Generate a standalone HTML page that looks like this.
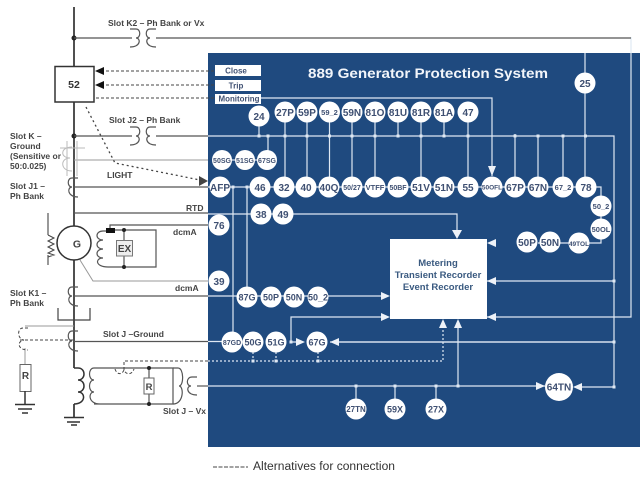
<!DOCTYPE html>
<html><head><meta charset="utf-8"><style>
html,body{margin:0;padding:0;background:#fff}
svg{display:block;filter:blur(.3px)}
text{font-family:"Liberation Sans",sans-serif}
.w{stroke:#dfe8f3;stroke-width:1.2;fill:none}
.d{stroke:#555;stroke-width:1.2;fill:none}
.g{stroke:#999;stroke-width:1;fill:none}
.k{stroke:#3d3d3d;stroke-width:1.8;fill:none}
.c circle{fill:#fff}
.n{fill:#3f5072;font-weight:bold;font-size:10px;text-anchor:middle}
.l{fill:#444;font-weight:bold;font-size:8.5px}
.dw{stroke:#dfe8f3;stroke-width:1.2;stroke-dasharray:2 2;fill:none}
.dk{stroke:#444;stroke-width:1;stroke-dasharray:3 2;fill:none}
</style></head><body>
<svg width="640" height="480" viewBox="0 0 640 480" xmlns="http://www.w3.org/2000/svg">
<rect x="208" y="53" width="432" height="394" fill="#1f4a7f"/>
<!-- white lines in panel -->
<g class="w">
<path d="M208 136H614V387M614 281H487M614 342H330M614 387H575"/>
<path d="M208 187H586M222 160H268V136M631 37V317H487"/>
<path d="M585 53V187M586 187H601V206V229V243H538"/>
<path d="M261 98H492V176"/>
<path d="M285 112V187M307 112V187M329.500 112V187M352 112V187M375 112V187M398 112V136M421 112V187M444 112V136M468 112V187M259 116V136"/>
<path d="M515 134V187M538 136V187M563 136V187"/>
<path d="M233 187V342M247 187V296"/>
<path d="M208 214H457V232M208 296H382M291 342H303M291 342V317H382M335 342H614"/>
<path d="M208 341.500H240M208 386H545M356 386V409M395 386V409M436 386V409M458 386V325"/>
</g>
<path class="dw" d="M208 361H443V326M253 352V361M276 352V361M318 352V361"/>
<!-- panel dots -->
<g fill="#dfe8f3">
<rect x="257.500" y="134.500" width="3" height="3"/><rect x="266.500" y="134.500" width="3" height="3"/><rect x="283.500" y="134.500" width="3" height="3"/><rect x="305.500" y="134.500" width="3" height="3"/><rect x="328" y="134.500" width="3" height="3"/><rect x="350.500" y="134.500" width="3" height="3"/><rect x="373.500" y="134.500" width="3" height="3"/><rect x="396.500" y="134.500" width="3" height="3"/><rect x="419.500" y="134.500" width="3" height="3"/><rect x="442.500" y="134.500" width="3" height="3"/><rect x="466.500" y="134.500" width="3" height="3"/><rect x="513.500" y="134.500" width="3" height="3"/><rect x="536.500" y="134.500" width="3" height="3"/><rect x="561.500" y="134.500" width="3" height="3"/><rect x="584" y="134.500" width="3" height="3"/>
<rect x="612.500" y="279.500" width="3" height="3"/><rect x="612.500" y="340.500" width="3" height="3"/><rect x="612.500" y="385.500" width="3" height="3"/><rect x="354.500" y="384.500" width="3" height="3"/><rect x="393.500" y="384.500" width="3" height="3"/><rect x="434.500" y="384.500" width="3" height="3"/><rect x="456.500" y="384.500" width="3" height="3"/><rect x="289.500" y="340.500" width="3" height="3"/><rect x="251.500" y="359.500" width="3" height="3"/><rect x="274.500" y="359.500" width="3" height="3"/><rect x="316.500" y="359.500" width="3" height="3"/>
<rect x="231.500" y="185.500" width="3" height="3"/><rect x="245.500" y="185.500" width="3" height="3"/>
</g>
<!-- panel arrows -->
<g fill="#eef2f8">
<path d="M492 176L488 166H496Z"/><path d="M457 239L452 230H462Z"/>
<path d="M390 296L381 292V300Z"/><path d="M390 317L381 313V321Z"/>
<path d="M487 243L496 239V247Z"/><path d="M487 281L496 277V285Z"/><path d="M487 317L496 313V321Z"/>
<path d="M305 342L296 338V346Z"/><path d="M330 342L339 338V346Z"/>
<path d="M443 319L439 328H447Z"/><path d="M458 319L454 328H462Z"/>
<path d="M545 386L536 382V390Z"/><path d="M573 387L582 383V391Z"/>
</g>
<!-- box -->
<rect x="390" y="239" width="97" height="80" fill="#fff"/>
<g fill="#3a5a80" font-weight="bold" font-size="9.500" text-anchor="middle">
<text x="438" y="266">Metering</text><text x="438" y="278">Transient Recorder</text><text x="438" y="290">Event Recorder</text>
</g>
<text x="308" y="78" fill="#f2f5fa" font-weight="bold" font-size="14.200" textLength="240" lengthAdjust="spacingAndGlyphs">889 Generator Protection System</text>
<!-- input boxes -->
<g fill="#fff"><rect x="215" y="65" width="46" height="11"/><rect x="215" y="80" width="46" height="11"/><rect x="215" y="94" width="46" height="10"/></g>
<g fill="#3f5072" font-size="8" font-weight="bold" text-anchor="middle"><text x="236" y="73.500">Close</text><text x="236" y="88.500">Trip</text><text x="239" y="101.500" textLength="41" lengthAdjust="spacingAndGlyphs">Monitoring</text></g>
<!-- circles -->
<g class="c">
<circle cx="259" cy="116" r="10.500"/><circle cx="285" cy="112" r="10.500"/><circle cx="307" cy="112" r="10.500"/><circle cx="329.500" cy="112" r="10.500"/><circle cx="352" cy="112" r="10.500"/><circle cx="375" cy="112" r="10.500"/><circle cx="398" cy="112" r="10.500"/><circle cx="421" cy="112" r="10.500"/><circle cx="444" cy="112" r="10.500"/><circle cx="468" cy="112" r="10.500"/>
<circle cx="585" cy="83" r="10.500"/>
<circle cx="222" cy="160" r="10"/><circle cx="245" cy="160" r="10"/><circle cx="267" cy="160" r="10"/>
<circle cx="220" cy="187" r="10.500"/><circle cx="260" cy="187" r="10.500"/><circle cx="284" cy="187" r="10.500"/><circle cx="306" cy="187" r="10.500"/><circle cx="329" cy="187" r="10.500"/><circle cx="352" cy="187" r="10.500"/><circle cx="375" cy="187" r="10.500"/><circle cx="398" cy="187" r="10.500"/><circle cx="421" cy="187" r="10.500"/><circle cx="444" cy="187" r="10.500"/><circle cx="468" cy="187" r="10.500"/><circle cx="492" cy="187" r="10.500"/><circle cx="515" cy="187" r="10.500"/><circle cx="538" cy="187" r="10.500"/><circle cx="563" cy="187" r="10.500"/><circle cx="586" cy="187" r="10.500"/>
<circle cx="601" cy="206" r="10.500"/><circle cx="601" cy="229" r="10.500"/><circle cx="579" cy="243" r="10.500"/><circle cx="550" cy="242" r="10.500"/><circle cx="527" cy="242" r="10.500"/>
<circle cx="261" cy="214" r="10.500"/><circle cx="283" cy="214" r="10.500"/><circle cx="219" cy="225" r="10.500"/><circle cx="219" cy="281" r="10.500"/>
<circle cx="247" cy="297" r="10.500"/><circle cx="271" cy="297" r="10.500"/><circle cx="294" cy="297" r="10.500"/><circle cx="318" cy="297" r="10.500"/>
<circle cx="232" cy="342" r="10.500"/><circle cx="253" cy="342" r="10.500"/><circle cx="276" cy="342" r="10.500"/><circle cx="317" cy="342" r="10.500"/>
<circle cx="356" cy="409" r="10.500"/><circle cx="395" cy="409" r="10.500"/><circle cx="436" cy="409" r="10.500"/><circle cx="559" cy="387" r="14"/>
</g>
<g class="n">
<text x="259" y="120">24</text><text x="285" y="116">27P</text><text x="307" y="116">59P</text><text x="329.500" y="115" font-size="7.500">59_2</text><text x="352" y="116">59N</text><text x="375" y="116">81O</text><text x="398" y="116">81U</text><text x="421" y="116">81R</text><text x="444" y="116">81A</text><text x="468" y="116">47</text>
<text x="585" y="87">25</text>
<text x="222" y="163" font-size="7">50SG</text><text x="245" y="163" font-size="7">51SG</text><text x="267" y="163" font-size="7">67SG</text>
<text x="220" y="191">AFP</text><text x="260" y="191">46</text><text x="284" y="191">32</text><text x="306" y="191">40</text><text x="329" y="191">40Q</text><text x="352" y="190" font-size="7">50/27</text><text x="375" y="190" font-size="7.500">VTFF</text><text x="398" y="190" font-size="7">50BF</text><text x="421" y="191">51V</text><text x="444" y="191">51N</text><text x="468" y="191">55</text><text x="492" y="189.500" font-size="6.500">50OFL</text><text x="515" y="191">67P</text><text x="538" y="191">67N</text><text x="563" y="190" font-size="7.500">67_2</text><text x="586" y="191">78</text>
<text x="601" y="209" font-size="7.500">50_2</text><text x="601" y="232" font-size="7.500">50OL</text><text x="579" y="246" font-size="6.500">49TOL</text><text x="550" y="246">50N</text><text x="527" y="246">50P</text>
<text x="261" y="218">38</text><text x="283" y="218">49</text><text x="219" y="229">76</text><text x="219" y="285">39</text>
<text x="247" y="300.500" font-size="9">87G</text><text x="271" y="300.500" font-size="9">50P</text><text x="294" y="300.500" font-size="9">50N</text><text x="318" y="300.500" font-size="9">50_2</text>
<text x="232" y="345" font-size="7">87GD</text><text x="253" y="345.500" font-size="9">50G</text><text x="276" y="345.500" font-size="9">51G</text><text x="317" y="345.500" font-size="9">67G</text>
<text x="356" y="412" font-size="8">27TN</text><text x="395" y="412.500" font-size="9">59X</text><text x="436" y="412.500" font-size="9">27X</text><text x="559" y="390.500" font-size="10">64TN</text>
</g>
<!-- left lines -->
<path class="k" d="M74 7V66M74 102V226M74 260V368"/>
<path d="M74 404V417" stroke="#3d3d3d" stroke-width="1.800" fill="none"/>
<circle cx="74" cy="38" r="2.500" fill="#222"/><circle cx="74" cy="136" r="2.500" fill="#222"/>
<path class="d" d="M74 38H132M156 38H631M74 136H132M156 136H208M74 187H208"/>
<path class="g" d="M74 160H208"/>
<path class="d" d="M74 213H208M48 213V235M48 255V265M74 296H208M74 341.500H208M110 230V225H208"/>
<path class="g" d="M80 260L93 281H208"/>
<rect x="55" y="66.500" width="39" height="35.500" fill="#fff" stroke="#333" stroke-width="1.500"/>
<text x="74" y="88" text-anchor="middle" font-size="10.500" font-weight="bold" fill="#333">52</text>
<!-- transformer symbols -->
<g class="d" stroke-width="1">
<path d="M130 29H136C141 29 141 38 136 38C141 38 141 47 130 47M156 29H150C145 29 145 38 150 38C145 38 145 47 156 47"/>
<path d="M130 127H136C141 127 141 136 136 136C141 136 141 145 130 145M156 127H150C145 127 145 136 150 136C145 136 145 145 156 145"/>
<path d="M78 178H72C67 178 67 187 72 187C67 187 67 197 78 197"/>
<path d="M78 287H72C67 287 67 296 72 296C67 296 67 306 78 306"/>
<path d="M78 331H72C67 331 67 341 72 341C67 341 67 351 78 351"/>
</g>
<path d="M72 147C60 147 60 158 70 158C60 158 60 171 72 171M67 141V176M77 141V176M60 148H85" fill="none" stroke="#bbb" stroke-width="1"/>
<!-- generator -->
<circle cx="74" cy="243" r="17" fill="#fff" stroke="#333" stroke-width="1.500"/>
<text x="77" y="247.500" text-anchor="middle" font-size="10.500" font-weight="bold" fill="#444">G</text>
<path d="M48 235L54 238L48 241L54 244L48 247L54 250L48 253L54 255L48 257" fill="none" stroke="#444" stroke-width="1"/>
<path class="d" d="M109 230H156V267H108M124 230V240M124 256V267"/>
<path class="d" d="M108 231H103C95 231 95 240 103 240C95 240 95 249 103 249C95 249 95 258 103 258C95 258 95 267 108 267"/>
<rect x="106" y="228" width="9" height="5" fill="#111"/>
<circle cx="124" cy="230" r="2" fill="#222"/><circle cx="124" cy="267" r="2" fill="#222"/>
<rect x="116.500" y="240.500" width="16" height="15.500" fill="#eee" stroke="#777"/>
<text x="124.500" y="252" text-anchor="middle" font-size="10" font-weight="bold" fill="#444">EX</text>
<!-- bottom -->
<path d="M58 308V320H90V308" fill="none" stroke="#444" stroke-width="1.200"/>
<path class="g" d="M25 326H74M25 348V364"/>
<path class="dk" d="M28 328H23C17 328 17 339 24 340C17 341 17 350 28 350M20 340H74"/>
<rect x="20" y="364.500" width="11" height="27" fill="#fff" stroke="#666"/>
<text x="25.500" y="379" text-anchor="middle" font-size="10" font-weight="bold" fill="#444">R</text>
<path d="M25 391V404M15 404.500H35M18 409H32M22 413H28" stroke="#333" stroke-width="1.500" fill="none"/>
<path d="M74 368H78C86 368 86 380 78 380C86 380 86 392 78 392C86 392 86 404 74 404M64 417.500H84M67 422H80M71 425H77" stroke="#333" stroke-width="1.500" fill="none"/>
<path class="d" d="M100 368H94C88 368 88 380 94 380C88 380 88 392 94 392C88 392 88 404 100 404M94 368H173V404H94"/>
<path class="d" d="M149 368V378M149 394V404M173 368H178C184 368 184 386 179 386C184 386 184 404 173 404M197 377H192C186 377 186 386 191 386C186 386 186 395 197 395"/>
<path class="d" d="M197 386H208"/>
<circle cx="149" cy="368" r="2" fill="#222"/><circle cx="149" cy="404" r="2" fill="#222"/>
<rect x="144" y="378" width="10" height="16" fill="#fff" stroke="#666"/>
<text x="149" y="390" text-anchor="middle" font-size="9.500" font-weight="bold" fill="#444">R</text>
<path class="dk" d="M115 369C117 375 122 375 124 370C126 375 132 375 134 369M124 370V361H208"/>
<!-- dashed controls -->
<g class="dk"><path d="M96 71H215M96 85H215M96 98H215"/></g>
<path d="M95 71L104 67V75Z M95 85L104 81V89Z" fill="#111"/>
<path d="M86 107L115 163L200 180" stroke="#444" stroke-width="1.300" stroke-dasharray="2 3" fill="none"/>
<path d="M208 181L199 176V186Z" fill="#444"/>
<!-- labels -->
<g class="l">
<text x="108" y="26">Slot K2 – Ph Bank or Vx</text>
<text x="109" y="123">Slot J2 – Ph Bank</text>
<text x="10" y="139">Slot K –</text><text x="10" y="149">Ground</text><text x="10" y="159">(Sensitive or</text><text x="10" y="169">50:0.025)</text>
<text x="10" y="189">Slot  J1 –</text><text x="10" y="199">Ph Bank</text>
<text x="107" y="178">LIGHT</text>
<text x="186" y="211">RTD</text>
<text x="173" y="235">dcmA</text>
<text x="175" y="291">dcmA</text>
<text x="10" y="296">Slot K1 –</text><text x="10" y="306">Ph Bank</text>
<text x="103" y="337">Slot J –Ground</text>
<text x="163" y="414">Slot J – Vx</text>
</g>
<!-- legend -->
<path d="M213 467H248" stroke="#444" stroke-width="1" stroke-dasharray="4 1.500"/>
<text x="253" y="470" font-size="11.500" fill="#333" textLength="142" lengthAdjust="spacingAndGlyphs">Alternatives for connection</text>
</svg>
</body></html>
